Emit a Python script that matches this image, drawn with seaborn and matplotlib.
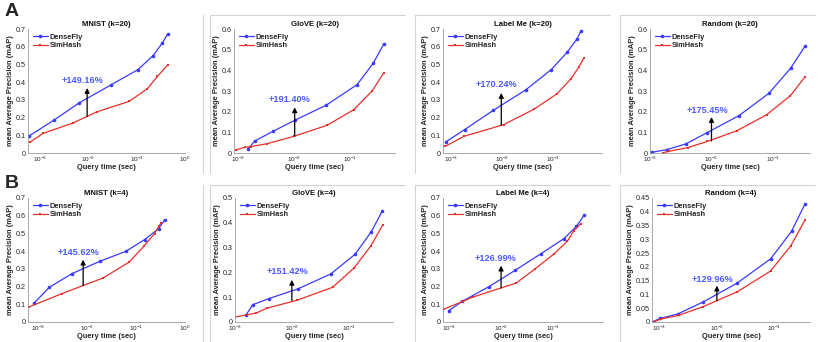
import numpy as np
import pandas as pd
import matplotlib
matplotlib.use("Agg")
import matplotlib.pyplot as plt
import matplotlib.ticker as mticker
from matplotlib.lines import Line2D
import seaborn as sns

# ---- data ----
titles = ["MNIST (k=20)", "GloVE (k=20)", "Label Me (k=20)", "Random (k=20)",
          "MNIST (k=4)", "GloVE (k=4)", "Label Me (k=4)", "Random (k=4)"]
gains = ["+149.16%", "+191.40%", "+170.24%", "+175.45%",
         "+145.62%", "+151.42%", "+126.99%", "+129.96%"]

mnist20_dense_x = [6.0e-4, 1.97e-3, 6.6e-3, 0.0294, 0.107, 0.22, 0.34, 0.44]
mnist20_dense_y = [0.096, 0.186, 0.284, 0.384, 0.471, 0.55, 0.621, 0.672]
mnist20_sim_x = [6.2e-4, 1.17e-3, 4.8e-3, 0.015, 0.071, 0.167, 0.27, 0.44]
mnist20_sim_y = [0.060, 0.111, 0.169, 0.232, 0.292, 0.363, 0.433, 0.497]

glove20_dense_x = [1.51e-3, 1.98e-3, 4.2e-3, 0.0102, 0.0374, 0.1315, 0.254, 0.39]
glove20_dense_y = [0.019, 0.058, 0.105, 0.158, 0.232, 0.331, 0.434, 0.527]
glove20_sim_x = [9.3e-4, 1.31e-3, 1.68e-3, 3.3e-3, 0.01, 0.0385, 0.115, 0.243, 0.389]
glove20_sim_y = [0.016, 0.027, 0.031, 0.045, 0.081, 0.134, 0.21, 0.30, 0.387]

labelme20_dense_x = [8.0e-4, 1.87e-3, 6.8e-3, 0.029, 0.0915, 0.187, 0.29, 0.35]
labelme20_dense_y = [0.062, 0.132, 0.241, 0.356, 0.471, 0.569, 0.644, 0.691]
labelme20_sim_x = [7.9e-4, 1.81e-3, 0.0108, 0.042, 0.119, 0.22, 0.314, 0.39]
labelme20_sim_y = [0.038, 0.094, 0.16, 0.247, 0.335, 0.418, 0.484, 0.535]

random20_dense_x = [1.06e-3, 1.86e-3, 3.84e-3, 8.3e-3, 0.0281, 0.086, 0.193, 0.334]
random20_dense_y = [0.003, 0.016, 0.044, 0.097, 0.181, 0.289, 0.41, 0.518]
random20_sim_x = [1.64e-3, 2.03e-3, 4.08e-3, 8.6e-3, 0.026, 0.079, 0.191, 0.334]
random20_sim_y = [0.002, 0.008, 0.026, 0.056, 0.108, 0.185, 0.277, 0.369]

mnist4_dense_x = [8.3e-4, 1.69e-3, 4.9e-3, 0.0183, 0.062, 0.149, 0.29, 0.385]
mnist4_dense_y = [0.107, 0.196, 0.273, 0.343, 0.399, 0.465, 0.527, 0.578]
mnist4_sim_x = [6.5e-4, 3.04e-3, 0.0214, 0.0728, 0.144, 0.239, 0.29, 0.33]
mnist4_sim_y = [0.085, 0.16, 0.249, 0.339, 0.427, 0.499, 0.54, 0.559]

glove4_dense_x = [1.57e-3, 2.06e-3, 3.9e-3, 0.0129, 0.0485, 0.129, 0.249, 0.39]
glove4_dense_y = [0.029, 0.07, 0.094, 0.134, 0.194, 0.273, 0.364, 0.448]
glove4_sim_x = [1.0e-3, 2.36e-3, 3.65e-3, 0.0121, 0.052, 0.123, 0.243, 0.40]
glove4_sim_y = [0.02, 0.036, 0.056, 0.087, 0.14, 0.217, 0.306, 0.393]

labelme4_dense_x = [1.0e-3, 1.81e-3, 5.9e-3, 0.0187, 0.0586, 0.161, 0.279, 0.39]
labelme4_dense_y = [0.064, 0.117, 0.2, 0.292, 0.386, 0.471, 0.54, 0.603]
labelme4_sim_x = [7.9e-4, 1.87e-3, 2.9e-3, 0.0195, 0.0455, 0.103, 0.187, 0.25, 0.338]
labelme4_sim_y = [0.072, 0.117, 0.141, 0.22, 0.301, 0.384, 0.456, 0.516, 0.556]

random4_dense_x = [7.4e-4, 1.03e-3, 2.08e-3, 5.8e-3, 0.0221, 0.0863, 0.2, 0.341]
random4_dense_y = [0.0, 0.013, 0.029, 0.073, 0.14, 0.229, 0.329, 0.427]
random4_sim_x = [8.2e-4, 1.07e-3, 2.14e-3, 5.8e-3, 0.0228, 0.0863, 0.195, 0.341]
random4_sim_y = [0.002, 0.011, 0.024, 0.056, 0.11, 0.185, 0.277, 0.369]

# arrow: x position, start (simhash), end (densefly side); label centre x, y
arrow_x = [0.0095, 0.0102, 0.0097, 0.01, 0.0083, 0.01, 0.01, 0.01]
arrow_y0 = [0.207, 0.081, 0.158, 0.058, 0.205, 0.086, 0.192, 0.077]
arrow_y1 = [0.367, 0.221, 0.339, 0.174, 0.352, 0.17, 0.318, 0.132]
label_x = [7.5e-3, 8.3e-3, 7.7e-3, 8.6e-3, 6.6e-3, 8.3e-3, 7.7e-3, 8.4e-3]
label_y = [0.41, 0.258, 0.384, 0.206, 0.395, 0.203, 0.358, 0.154]

dense_x = [mnist20_dense_x, glove20_dense_x, labelme20_dense_x, random20_dense_x,
           mnist4_dense_x, glove4_dense_x, labelme4_dense_x, random4_dense_x]
dense_y = [mnist20_dense_y, glove20_dense_y, labelme20_dense_y, random20_dense_y,
           mnist4_dense_y, glove4_dense_y, labelme4_dense_y, random4_dense_y]
sim_x = [mnist20_sim_x, glove20_sim_x, labelme20_sim_x, random20_sim_x,
         mnist4_sim_x, glove4_sim_x, labelme4_sim_x, random4_sim_x]
sim_y = [mnist20_sim_y, glove20_sim_y, labelme20_sim_y, random20_sim_y,
         mnist4_sim_y, glove4_sim_y, labelme4_sim_y, random4_sim_y]

# ---- layout (pixels of the 830x342 canvas) ----
W, H = 830, 342
ax_lr = [(28, 185), (234, 395), (443, 602), (650, 810),
         (28, 185), (235, 393), (443, 603), (652, 810)]
row_tb = [(29, 153), (198, 322)]
xlims = [(5.7e-4, 1.0), (8.5e-4, 0.62), (7.1e-4, 0.89), (1e-3, 0.4),
         (6.2e-4, 1.0), (1e-3, 0.6), (7.7e-4, 0.9), (7.4e-4, 0.42)]
ylims = [0.7, 0.6, 0.7, 0.6, 0.7, 0.5, 0.7, 0.45]
ysteps = [0.1, 0.1, 0.1, 0.1, 0.1, 0.1, 0.1, 0.05]

sns.set_style("white")
plt.rcParams["font.family"] = ["Liberation Sans", "DejaVu Sans"]
plt.rcParams["mathtext.fontset"] = "custom"
plt.rcParams["mathtext.rm"] = "Liberation Sans"
plt.rcParams["mathtext.it"] = "Liberation Sans"

blue = "#3a3aff"
red = "#e8302a"
txt_blue = "#4d5bff"

fig = plt.figure(figsize=(W / 100, H / 100), dpi=100)
fig.patch.set_facecolor("white")

for i in range(8):
    l, r = ax_lr[i]
    t, b = row_tb[i // 4]
    ax = fig.add_axes([l / W, 1 - b / H, (r - l) / W, (b - t) / H])

    df_d = pd.DataFrame({"t": dense_x[i], "map": dense_y[i]})
    df_s = pd.DataFrame({"t": sim_x[i], "map": sim_y[i]})
    sns.lineplot(data=df_d, x="t", y="map", ax=ax, color=blue, lw=0.9,
                 marker="o", markersize=2.6, markeredgewidth=0, sort=False,
                 label="DenseFly")
    sns.lineplot(data=df_s, x="t", y="map", ax=ax, color=red, lw=0.9,
                 marker="s", markersize=2.0, markeredgewidth=0, sort=False,
                 label="SimHash")

    ax.set_xscale("log")
    ax.set_xlim(*xlims[i])
    ax.set_ylim(0, ylims[i])
    ax.set_yticks(np.arange(0, ylims[i] + 1e-9, ysteps[i]))
    ax.yaxis.set_major_formatter(mticker.FormatStrFormatter("%g"))
    ax.xaxis.set_major_locator(mticker.LogLocator(base=10, numticks=10))
    ax.xaxis.set_minor_locator(mticker.LogLocator(base=10, subs=np.arange(2, 10), numticks=20))
    ax.xaxis.set_minor_formatter(mticker.NullFormatter())

    for s in ["top", "right"]:
        ax.spines[s].set_visible(False)
    for s in ["left", "bottom"]:
        ax.spines[s].set_color("#9a9a9a")
        ax.spines[s].set_linewidth(0.6)
    ax.tick_params(axis="y", which="major", direction="in", length=2.0,
                   width=0.5, colors="#9a9a9a", labelsize=5.2,
                   labelcolor="#262626", pad=1.5)
    ax.tick_params(axis="x", which="major", direction="in", length=2.0,
                   width=0.5, colors="#9a9a9a", labelsize=4.6,
                   labelcolor="#262626", pad=1.0)
    ax.tick_params(axis="x", which="minor", direction="in", length=1.2,
                   width=0.4, colors="#9a9a9a")

    ax.set_title(titles[i], fontsize=5.6, fontweight="bold", pad=2, color="#111111")
    ax.set_xlabel("Query time (sec)", fontsize=5.4, fontweight="bold",
                  labelpad=0, color="#262626")
    ax.set_ylabel("mean Average Precision (mAP)", fontsize=5.4,
                  fontweight="bold", labelpad=1.5, color="#262626")

    ax.legend(loc="upper left", frameon=False,
              handlelength=2.0, handletextpad=0.3, labelspacing=0.15,
              borderaxespad=0.2, prop={"weight": "bold", "size": 5.4})

    ax.annotate("", xy=(arrow_x[i], arrow_y1[i]), xytext=(arrow_x[i], arrow_y0[i]),
                arrowprops=dict(arrowstyle="-|>", color="black", lw=0.9,
                                mutation_scale=7, shrinkA=0, shrinkB=0))
    ax.text(label_x[i], label_y[i], gains[i], color=txt_blue, fontsize=6.6,
            fontweight="bold", ha="center", va="center")

# panel letters
fig.text(5 / W, 1 - 12 / H, "A", fontsize=14, fontweight="bold", va="center", ha="left")
fig.text(5 / W, 1 - 184 / H, "B", fontsize=14, fontweight="bold", va="center", ha="left")

# light frames between panels
frame = "#d4d4d4"
for top in (15, 185):
    bot = top + 158
    for xl in (210, 415, 620):
        fig.add_artist(Line2D([xl / W, xl / W], [1 - top / H, 1 - min(bot, H) / H],
                              color=frame, lw=0.8))
        fig.add_artist(Line2D([xl / W, (xl + 195) / W], [1 - top / H, 1 - top / H],
                              color=frame, lw=0.8))
    fig.add_artist(Line2D([203 / W, 203 / W], [1 - top / H, 1 - min(bot, H) / H],
                          color=frame, lw=0.8))

fig.savefig("out.png", dpi=100, facecolor="white")
